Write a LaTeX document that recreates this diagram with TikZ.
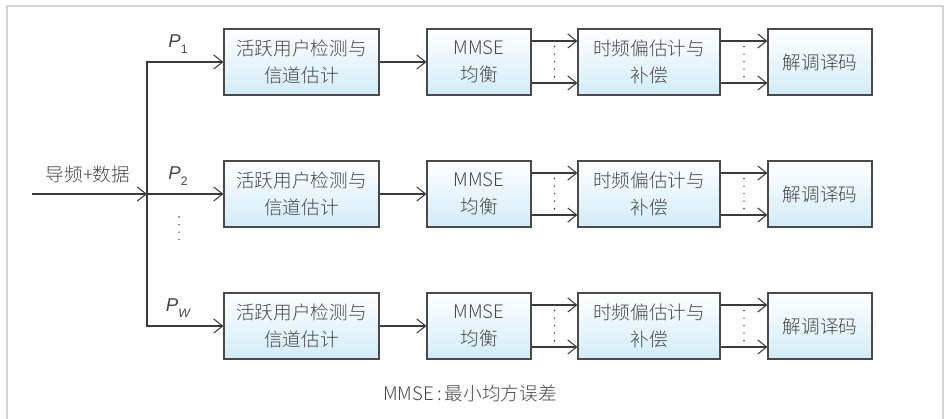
\documentclass[tikz,border=0pt]{standalone}
\usepackage{fontspec}
\IfFontExistsTF{Noto Sans CJK SC Light}
  {\setmainfont{Noto Sans CJK SC Light}}
  {\setmainfont{Noto Sans CJK SC}}
\newfontfamily\pfont{Liberation Sans}
\usetikzlibrary{arrows.meta}
\usetikzlibrary{calc}
\definecolor{txtgray}{HTML}{474747}
\definecolor{linegray}{HTML}{3A3A3A}
\definecolor{boxline}{HTML}{4A4A4A}
\definecolor{boxblue}{HTML}{D2ECF8}
\definecolor{framegray}{HTML}{D4D4D4}
\tikzset{%
  sig/.style = {-{Straight Barb[length=5pt,width=8pt]},draw=linegray,line width=0.6pt},
  dotline/.style = {draw=linegray,line width=0.9pt,line cap=round,
        dash pattern=on 0pt off 4.3pt},
  blk/.style = {rectangle,draw=boxline,line width=0.7pt,top color=white,
        bottom color=boxblue,minimum height=1.32cm,align=center,
        text=txtgray,inner sep=0pt},
  lbl/.style = {text=txtgray,inner sep=0pt}
}
\newcommand{\plab}[1]{{\pfont\itshape P}\raisebox{-0.55ex}{\pfont\scriptsize #1}}

\begin{document}
\begin{tikzpicture}[x=0.02cm,y=-0.02cm,
font=\fontsize{10.6}{15.3}\selectfont]
\useasboundingbox (0,0) rectangle (948,419);
\draw[framegray,line width=1.5pt] (7,419) -- (7,6) -- (943,6) -- (943,419);

\coordinate (in) at (32,194);
\coordinate (junc) at (147,194);
\node[lbl] (src) at (88,174) {导频+数据};
\draw[sig] (in) -- (junc);

\foreach \r/\y/\p in {1/62/{\plab{1}},2/194/{\plab{2}},3/326/{\plab{\itshape W}}}{
    \node[blk,minimum width=3.1cm] (det\r) at (301.5,\y) {活跃用户检测与\\信道估计};
    \node[blk,minimum width=2.08cm] (mse\r) at (479,\y) {MMSE\\均衡};
    \node[blk,minimum width=2.84cm] (cfo\r) at (649,\y) {时频偏估计与\\补偿};
    \node[blk,minimum width=2.08cm] (dec\r) at (820,\y) {解调译码};
    \node[lbl] (p\r) at (178,\y-18) {\p};
    \draw[sig] (junc) |- (det\r.west);
    \draw[sig] (det\r) -- (mse\r);
    \draw[sig] ([yshift=0.42cm]mse\r.east) -- ([yshift=0.42cm]cfo\r.west);
    \draw[sig] ([yshift=-0.42cm]mse\r.east) -- ([yshift=-0.42cm]cfo\r.west);
    \draw[sig] ([yshift=0.42cm]cfo\r.east) -- ([yshift=0.42cm]dec\r.west);
    \draw[sig] ([yshift=-0.42cm]cfo\r.east) -- ([yshift=-0.42cm]dec\r.west);
    \draw[dotline] ($(mse\r.east)!0.5!(cfo\r.west)+(0,-15.5)$) -- ++(0,31);
    \draw[dotline] ($(cfo\r.east)!0.5!(dec\r.west)+(0,-15.5)$) -- ++(0,31);
}
\draw[dotline] (179,217) -- (179,247);

\node[lbl] (note) at (470,393) {MMSE\,:\,最小均方误差};
\end{tikzpicture}
\end{document}
